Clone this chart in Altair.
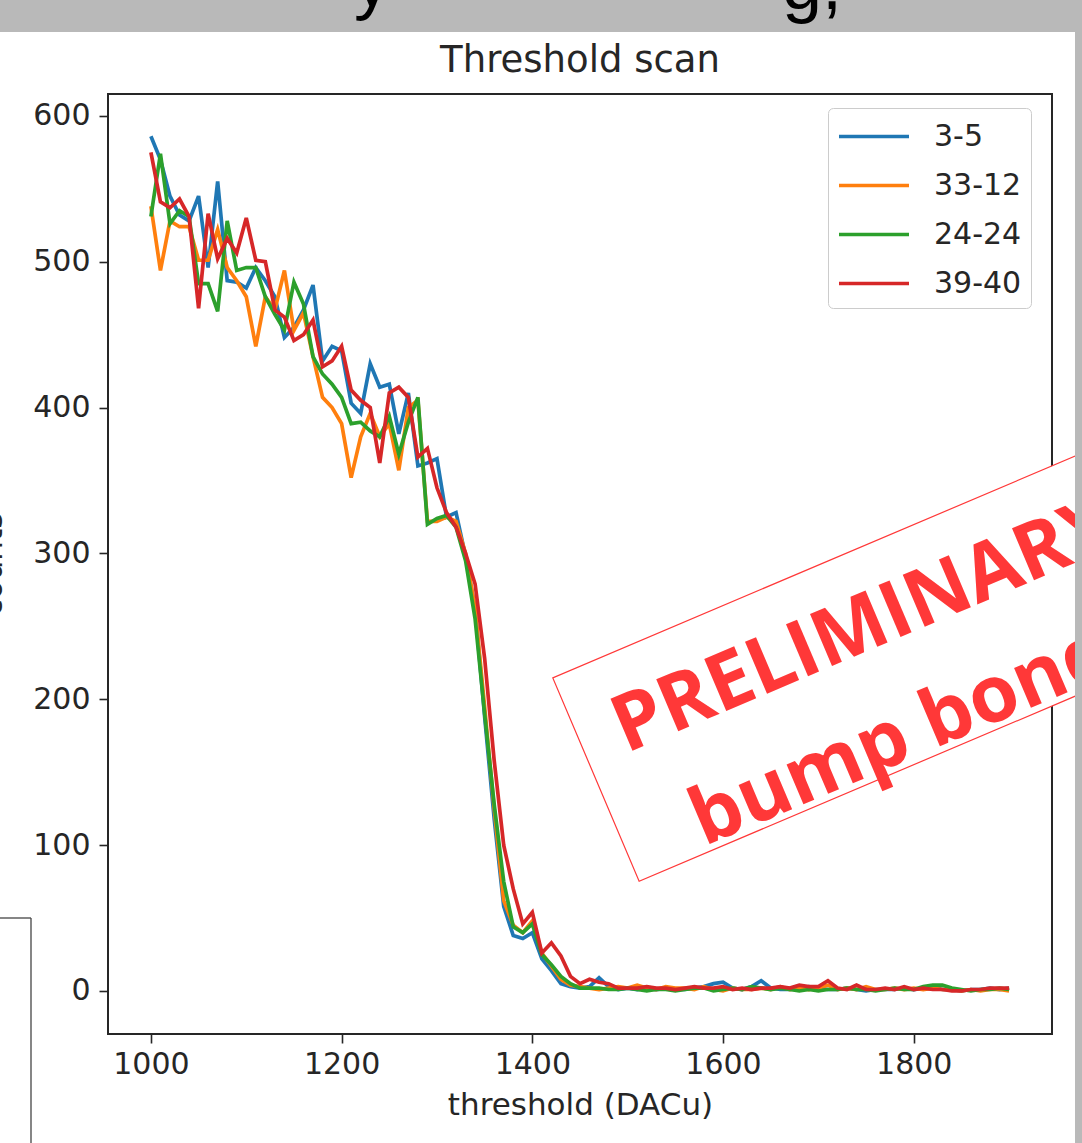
import altair as alt
import pandas as pd

# ---------------- data ----------------
thresholds = list(range(1000, 1901, 10))
series_names = ["3-5", "33-12", "24-24", "39-40"]
series_colors = ["#1f77b4", "#ff7f0e", "#2ca02c", "#d62728"]

counts_3_5 = [586, 570, 545, 532, 528, 545, 496, 555, 487, 486,
              482, 496, 487, 476, 448, 455, 467, 484, 432, 442,
              439, 403, 396, 430, 414, 416, 382, 410, 360, 362,
              365, 325, 328, 298, 262, 188, 118, 58, 38, 36,
              40, 22, 14, 5, 3,
              2, 3, 9, 3, 1,
              2, 1, 2, 1, 2, 1, 1, 2, 3, 5,
              6, 2, 1, 3, 7, 2, 1, 1, 2, 3,
              2, 1, 1, 2, 1, 0, 1, 1, 1, 2,
              1, 2, 3, 1, 1, 0, 1, 1, 2, 1,
              2]

counts_33_12 = [538, 494, 528, 524, 524, 501, 501, 522, 496, 487,
                476, 442, 476, 467, 494, 453, 465, 435, 407, 400,
                389, 352, 380, 396, 380, 389, 357, 400, 405, 322,
                322, 325, 322, 300, 262, 195, 125, 62, 45, 40,
                48, 26, 17, 8, 4,
                3, 2, 1, 2, 3,
                2, 4, 2, 1, 3, 2, 2, 1, 3, 1,
                0, 2, 1, 1, 2, 1, 3, 1, 2, 1,
                2, 4, 1, 2, 1, 3, 1, 1, 2, 1,
                2, 1, 2, 1, 1, 0, 1, 0, 1, 1,
                0]

counts_24_24 = [531, 574, 526, 535, 531, 485, 485, 466, 528, 494,
                496, 496, 476, 464, 453, 486, 471, 435, 423, 416,
                407, 389, 390, 384, 380, 394, 368, 390, 407, 320,
                324, 326, 318, 295, 255, 190, 128, 75, 44, 40,
                46, 25, 18, 10, 5,
                2, 2, 2, 1, 1,
                2, 1, 0, 1, 1, 0, 1, 2, 2, 0,
                1, 2, 1, 3, 2, 1, 2, 1, 0, 1,
                0, 1, 1, 2, 1, 1, 0, 1, 2, 1,
                1, 3, 4, 4, 2, 1, 0, 1, 1, 2,
                1]

counts_39_40 = [575, 541, 537, 543, 531, 468, 533, 502, 516, 506,
                530, 501, 500, 467, 462, 446, 450, 460, 428, 432,
                442, 412, 405, 400, 362, 410, 414, 407, 366, 372,
                345, 328, 318, 300, 279, 228, 158, 100, 70, 46,
                54, 26, 33, 24, 10,
                5, 8, 6, 5, 2,
                2, 2, 3, 2, 2, 1, 2, 3, 2, 2,
                3, 1, 2, 1, 2, 2, 3, 2, 4, 3,
                3, 7, 2, 1, 4, 1, 1, 2, 1, 3,
                1, 2, 1, 1, 0, 0, 1, 1, 2, 2,
                2]

x_ticks = [1000, 1200, 1400, 1600, 1800]
y_ticks = [0, 100, 200, 300, 400, 500, 600]

title_text = "Threshold scan"
x_title = "threshold (DACu)"
y_title = "counts"
stamp_line1 = "PRELIMINARY"
stamp_line2 = "bump bond"

# ---------------- table ----------------
rows = []
for name, vals in zip(series_names, [counts_3_5, counts_33_12, counts_24_24, counts_39_40]):
    for t, v in zip(thresholds, vals):
        rows.append({"threshold": t, "counts": v, "pixel": name})
df = pd.DataFrame(rows)
one = pd.DataFrame({"k": [0]})

INK = "#262626"
RED = "#ff3838"
GRAY = "#b9b9b9"
FONT = "DejaVu Sans"

axis_common = dict(grid=False, domain=False, tickSize=9, tickWidth=1.6, tickColor=INK,
                   labelColor=INK, labelFontSize=30, labelFont=FONT,
                   titleFontSize=31, titleFont=FONT, titleFontWeight="normal", titleColor=INK)

lines = alt.Chart(df).mark_line(strokeWidth=3.7).encode(
    x=alt.X("threshold:Q",
            scale=alt.Scale(domain=[955, 1945], nice=False, zero=False),
            axis=alt.Axis(values=x_ticks, title=x_title, labelPadding=6, titlePadding=11,
                          format="d", **axis_common)),
    y=alt.Y("counts:Q",
            scale=alt.Scale(domain=[-29.5, 615], nice=False, zero=False),
            axis=alt.Axis(values=y_ticks, title=y_title, labelPadding=9,
                          titleX=-100, titleY=470, titleAngle=270, titleBaseline="bottom",
                          **axis_common)),
    color=alt.Color("pixel:N",
                    scale=alt.Scale(domain=series_names, range=series_colors),
                    legend=alt.Legend(orient="none", legendX=720, legendY=14, title=None,
                                      symbolType="M-1,0L3,0", symbolSize=1225,
                                      symbolStrokeWidth=3.7,
                                      labelFontSize=30, labelFont=FONT, labelColor=INK,
                                      labelOffset=58, rowPadding=14, padding=9,
                                      strokeColor="#cccccc", fillColor="white",
                                      cornerRadius=5)),
)

# chart title drawn as a text mark above the plot
title_mark = alt.Chart(one).mark_text(
    align="center", baseline="middle", font=FONT, fontSize=37, color=INK,
).encode(x=alt.value(472), y=alt.value(-33), text=alt.value(title_text))

# "PRELIMINARY" stamp
stamp_box = alt.Chart(one).mark_point(
    shape="M-1,-0.3576L1,-0.3576L1,0.3576L-1,0.3576Z", size=618 * 618, angle=337,
    filled=True, fill="white", stroke=RED, strokeWidth=1.2, opacity=1,
).encode(x=alt.value(772.4), y=alt.value(564.8))

stamp_t1 = alt.Chart(one).mark_text(
    angle=337, align="left", baseline="alphabetic", font="Open Sans", fontWeight="bold",
    fontSize=79, color=RED,
).encode(x=alt.value(518), y=alt.value(659.5), text=alt.value(stamp_line1))

stamp_t2 = alt.Chart(one).mark_text(
    angle=337, align="left", baseline="alphabetic", font="Open Sans", fontWeight="bold",
    fontSize=79, color=RED,
).encode(x=alt.value(596), y=alt.value(752.5), text=alt.value(stamp_line2))

# slide surroundings
band = alt.Chart(one).mark_rect(color=GRAY).encode(
    x=alt.value(-108), x2=alt.value(974), y=alt.value(-94), y2=alt.value(-62))
strip = alt.Chart(one).mark_rect(color=GRAY).encode(
    x=alt.value(967), x2=alt.value(980), y=alt.value(-62), y2=alt.value(1060))
box_h = alt.Chart(one).mark_rule(color="#444444", strokeWidth=1.3).encode(
    x=alt.value(-108), x2=alt.value(-77), y=alt.value(824))
box_v = alt.Chart(one).mark_rule(color="#444444", strokeWidth=1.3).encode(
    x=alt.value(-77), y=alt.value(824), y2=alt.value(1060))
desc_y = alt.Chart(one).mark_text(
    align="center", baseline="alphabetic", font="Liberation Sans", fontSize=72, color="black",
).encode(x=alt.value(264), y=alt.value(-88), text=alt.value("y"))
desc_g = alt.Chart(one).mark_text(
    align="left", baseline="alphabetic", font="Liberation Sans", fontSize=72, color="black",
).encode(x=alt.value(674), y=alt.value(-85), text=alt.value("g,"))

chart = alt.layer(
    lines, title_mark, stamp_box, stamp_t1, stamp_t2, band, strip, box_h, box_v, desc_y, desc_g
).properties(
    width=944, height=940,
    autosize=alt.AutoSizeParams(type="none"),
    padding={"left": 108, "top": 94, "right": 30, "bottom": 109},
).configure(background="white").configure_view(stroke=INK, strokeWidth=2)

chart.save("out.html", embed_options={"renderer": "svg", "actions": False})
